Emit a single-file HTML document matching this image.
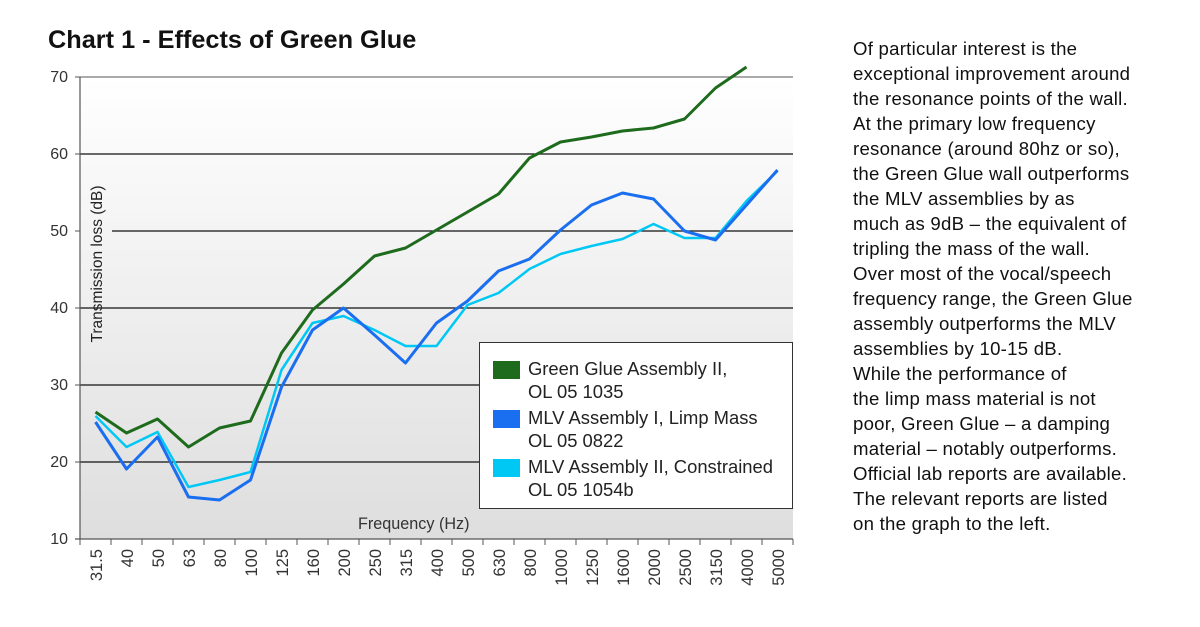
<!DOCTYPE html>
<html><head><meta charset="utf-8"><style>
body{margin:0;width:1200px;height:627px;background:#fff;overflow:hidden;font-family:"Liberation Sans",Arial,sans-serif}
.t{position:absolute;left:853px;top:36px;font-size:18.6px;letter-spacing:0.25px;line-height:25px;color:#111}
</style></head><body>
<svg width="1200" height="627" style="position:absolute;left:0;top:0" font-family="Liberation Sans, Arial, sans-serif">
<defs><linearGradient id="g" x1="0" y1="0" x2="0" y2="1"><stop offset="0" stop-color="#ffffff"/><stop offset="1" stop-color="#dedede"/></linearGradient></defs>
<text x="48" y="48" font-size="25.3" font-weight="bold" fill="#111">Chart 1 - Effects of Green Glue</text>
<rect x="80" y="77" width="713" height="462" fill="url(#g)"/>
<g stroke="#111" stroke-width="1.2">
<line x1="80" y1="77" x2="793" y2="77" stroke="#777"/>
<line x1="80" y1="154" x2="793" y2="154"/>
<line x1="112" y1="231" x2="793" y2="231"/>
<line x1="80" y1="308" x2="793" y2="308"/>
<line x1="80" y1="385" x2="793" y2="385"/>
<line x1="80" y1="462" x2="793" y2="462"/>
<line x1="80" y1="77" x2="80" y2="539" stroke="#555"/>
<line x1="75" y1="539" x2="793" y2="539" stroke="#555"/>
</g>
<g stroke="#555" stroke-width="1">
<line x1="75" y1="77" x2="80" y2="77"/><line x1="75" y1="154" x2="80" y2="154"/><line x1="75" y1="231" x2="80" y2="231"/><line x1="75" y1="308" x2="80" y2="308"/><line x1="75" y1="385" x2="80" y2="385"/><line x1="75" y1="462" x2="80" y2="462"/>
<path d="M80 539v6M111 539v6M142 539v6M173 539v6M204 539v6M235 539v6M266 539v6M297 539v6M328 539v6M359 539v6M390 539v6M421 539v6M452 539v6M483 539v6M514 539v6M545 539v6M576 539v6M607 539v6M638 539v6M669 539v6M700 539v6M731 539v6M762 539v6M793 539v6"/>
</g>
<g font-size="16" fill="#333" text-anchor="end">
<text x="68" y="82">70</text><text x="68" y="159">60</text><text x="68" y="236">50</text><text x="68" y="313">40</text><text x="68" y="390">30</text><text x="68" y="467">20</text><text x="68" y="544">10</text>
</g>
<g font-size="16.5" fill="#333" text-anchor="end">
<text transform="translate(102,549) rotate(-90)">31.5</text>
<text transform="translate(133,549) rotate(-90)">40</text>
<text transform="translate(164,549) rotate(-90)">50</text>
<text transform="translate(195,549) rotate(-90)">63</text>
<text transform="translate(226,549) rotate(-90)">80</text>
<text transform="translate(257,549) rotate(-90)">100</text>
<text transform="translate(288,549) rotate(-90)">125</text>
<text transform="translate(319,549) rotate(-90)">160</text>
<text transform="translate(350,549) rotate(-90)">200</text>
<text transform="translate(381,549) rotate(-90)">250</text>
<text transform="translate(412,549) rotate(-90)">315</text>
<text transform="translate(443,549) rotate(-90)">400</text>
<text transform="translate(474,549) rotate(-90)">500</text>
<text transform="translate(505,549) rotate(-90)">630</text>
<text transform="translate(536,549) rotate(-90)">800</text>
<text transform="translate(567,549) rotate(-90)">1000</text>
<text transform="translate(598,549) rotate(-90)">1250</text>
<text transform="translate(629,549) rotate(-90)">1600</text>
<text transform="translate(660,549) rotate(-90)">2000</text>
<text transform="translate(691,549) rotate(-90)">2500</text>
<text transform="translate(722,549) rotate(-90)">3150</text>
<text transform="translate(753,549) rotate(-90)">4000</text>
<text transform="translate(784,549) rotate(-90)">5000</text>
</g>
<text transform="translate(102,264) rotate(-90)" font-size="15.5" fill="#222" text-anchor="middle">Transmission loss (dB)</text>
<text x="358" y="529" font-size="16.2" fill="#333">Frequency (Hz)</text>
<g fill="none" stroke-width="3" stroke-linejoin="round">
<polyline stroke="#1e6b1e" points="95.5,412 126.5,433 157.5,419 188.5,447 219.5,428 250.5,421 281.5,353 312.5,310 343.5,284 374.5,256 405.5,248 436.5,230 467.5,212 498.5,194 529.5,158 560.5,142 591.5,137 622.5,131 653.5,128 684.5,119 715.5,88 746.5,67"/>
<polyline stroke="#00c8f5" stroke-width="2.5" points="95.5,416 126.5,447 157.5,432 188.5,487 219.5,480 250.5,472 281.5,370 312.5,323 343.5,316 374.5,330 405.5,346 436.5,346 467.5,305 498.5,293 529.5,269 560.5,254 591.5,246 622.5,239 653.5,224 684.5,238 715.5,238 746.5,201 777.5,171"/>
<polyline stroke="#1a6ef0" points="95.5,422 126.5,469 157.5,437 188.5,497 219.5,500 250.5,480 281.5,387 312.5,330 343.5,308 374.5,335 405.5,363 436.5,323 467.5,301 498.5,271 529.5,259 560.5,230 591.5,205 622.5,193 653.5,199 684.5,231 715.5,240 746.5,205 777.5,170"/>
</g>
<rect x="479.5" y="342.5" width="313" height="166" fill="#fff" stroke="#333" stroke-width="1"/>
<rect x="493" y="361" width="27" height="18" fill="#1e6b1e"/>
<rect x="493" y="410" width="27" height="18" fill="#1a6ef0"/>
<rect x="493" y="459" width="27" height="18" fill="#00c8f5"/>
<g font-size="18.4" fill="#222">
<text x="528" y="375">Green Glue Assembly II,</text>
<text x="528" y="398">OL 05 1035</text>
<text x="528" y="424">MLV Assembly I, Limp Mass</text>
<text x="528" y="447">OL 05 0822</text>
<text x="528" y="473">MLV Assembly II, Constrained</text>
<text x="528" y="496">OL 05 1054b</text>
</g>
</svg>
<div class="t">Of particular interest is the<br>exceptional improvement around<br>the resonance points of the wall.<br>At the primary low frequency<br>resonance (around 80hz or so),<br>the Green Glue wall outperforms<br>the MLV assemblies by as<br>much as 9dB – the equivalent of<br>tripling the mass of the wall.<br>Over most of the vocal/speech<br>frequency range, the Green Glue<br>assembly outperforms the MLV<br>assemblies by 10-15 dB.<br>While the performance of<br>the limp mass material is not<br>poor, Green Glue – a damping<br>material – notably outperforms.<br>Official lab reports are available.<br>The relevant reports are listed<br>on the graph to the left.</div>
</body></html>
